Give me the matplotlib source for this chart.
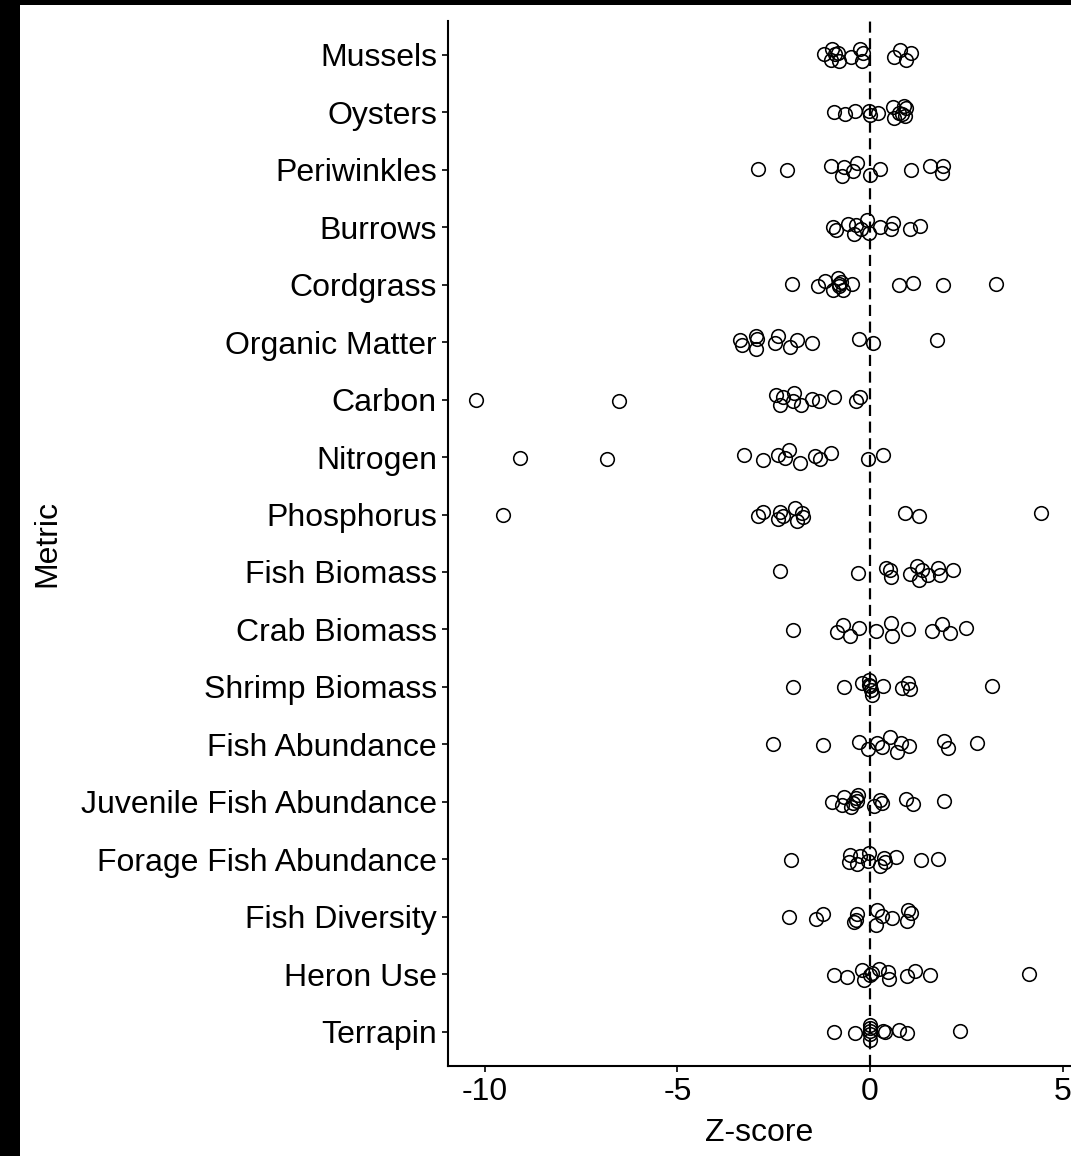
import numpy as np
import matplotlib
matplotlib.use('Agg')
import matplotlib.pyplot as plt
from matplotlib.patches import Rectangle

plt.rcParams['font.family'] = ['Liberation Sans', 'DejaVu Sans']
plt.rcParams['axes.unicode_minus'] = False

# metrics, top to bottom
metrics = ['Mussels', 'Oysters', 'Periwinkles', 'Burrows', 'Cordgrass',
           'Organic Matter', 'Carbon', 'Nitrogen', 'Phosphorus',
           'Fish Biomass', 'Crab Biomass', 'Shrimp Biomass', 'Fish Abundance',
           'Juvenile Fish Abundance', 'Forage Fish Abundance',
           'Fish Diversity', 'Heron Use', 'Terrapin']

# z-scores per metric, with the vertical jitter each point got
mussels_z = [-1.19, -0.99, -1.02, -0.91, -0.82, -0.80, -0.50, -0.26, -0.22, -0.19, 0.62, 0.78, 0.93, 1.06]
mussels_j = [0.01, 0.10, -0.08, 0.02, 0.04, -0.10, -0.03, 0.11, -0.10, 0.03, -0.03, 0.08, -0.08, 0.03]
oysters_z = [-0.93, -0.64, -0.39, -0.03, -0.01, 0.20, 0.61, 0.62, 0.76, 0.87, 0.92, 0.93, 0.82]
oysters_j = [0.01, -0.02, 0.03, 0.02, -0.05, -0.01, 0.09, -0.09, -0.01, 0.12, -0.07, 0.07, -0.03]
periwinkles_z = [-2.92, -2.16, -1.01, -0.74, -0.67, -0.43, -0.34, 0.0, 0.26, 1.06, 1.57, 1.86, 1.89]
periwinkles_j = [0.01, -0.01, 0.06, -0.10, 0.05, -0.02, 0.12, -0.09, 0.02, -0.01, 0.07, -0.05, 0.06]
burrows_z = [-0.97, -0.88, -0.58, -0.41, -0.36, -0.24, -0.09, -0.02, 0.26, 0.54, 0.59, 1.04, 1.30]
burrows_j = [0.01, -0.04, 0.06, -0.12, 0.04, -0.03, 0.12, -0.10, 0.0, -0.03, 0.07, -0.03, 0.02]
cordgrass_z = [-2.02, -1.36, -1.17, -0.95, -0.82, -0.80, -0.80, -0.69, -0.76, -0.46, 0.76, 1.12, 1.90, 3.27]
cordgrass_j = [0.01, -0.03, 0.07, -0.09, 0.11, 0.02, -0.03, -0.10, 0.05, 0.02, -0.01, 0.03, -0.01, 0.02]
organic_z = [-3.37, -3.32, -2.96, -2.94, -2.96, -2.47, -2.38, -2.09, -1.89, -1.51, -0.28, 0.09, 1.73]
organic_j = [0.04, -0.05, 0.10, 0.05, -0.11, -0.02, 0.10, -0.08, 0.03, -0.01, 0.05, -0.02, 0.03]
carbon_z = [-10.22, -6.51, -2.44, -2.35, -2.25, -1.97, -2.01, -1.80, -1.51, -1.32, -0.93, -0.37, -0.26]
carbon_j = [-0.01, -0.03, 0.08, -0.09, 0.05, 0.12, -0.03, -0.10, 0.01, -0.02, 0.04, -0.03, 0.04]
nitrogen_z = [-9.08, -6.84, -3.27, -2.77, -2.38, -2.21, -2.10, -1.82, -1.43, -1.30, -1.02, -0.04, 0.35]
nitrogen_j = [-0.01, -0.03, 0.04, -0.05, 0.04, -0.02, 0.12, -0.11, 0.02, -0.03, 0.07, -0.03, 0.03]
phosphorus_z = [-9.54, -2.92, -2.79, -2.38, -2.34, -2.25, -1.95, -1.90, -1.77, -1.75, 0.91, 1.27, 4.43]
phosphorus_j = [-0.01, -0.02, 0.05, -0.08, 0.05, -0.02, 0.11, -0.12, 0.03, -0.05, 0.03, -0.02, 0.02]
fish_biomass_z = [-2.34, -0.32, 0.41, 0.52, 0.54, 1.04, 1.21, 1.28, 1.34, 1.51, 1.77, 1.82, 2.16]
fish_biomass_j = [0.01, -0.01, 0.07, 0.04, -0.08, -0.03, 0.11, -0.14, 0.04, -0.05, 0.07, -0.05, 0.03]
crab_biomass_z = [-1.99, -0.87, -0.71, -0.52, -0.28, 0.15, 0.54, 0.56, 0.98, 1.61, 1.86, 2.09, 2.49]
crab_biomass_j = [-0.01, -0.05, 0.08, -0.11, 0.03, -0.02, 0.11, -0.11, 0.01, -0.03, 0.09, -0.06, 0.03]
shrimp_biomass_z = [-2.01, -0.67, -0.22, -0.02, 0.0, 0.02, 0.04, -0.02, 0.35, 0.82, 0.99, 1.04, 3.17]
shrimp_biomass_j = [0.0, -0.01, 0.06, 0.12, 0.01, -0.06, -0.14, 0.04, 0.01, -0.02, 0.07, -0.04, 0.01]
fish_abund_z = [-2.53, -1.21, -0.28, -0.06, 0.19, 0.30, 0.52, 0.69, 0.80, 1.01, 1.93, 2.03, 2.79]
fish_abund_j = [0.0, -0.02, 0.04, -0.09, 0.03, -0.05, 0.12, -0.14, 0.02, -0.03, 0.06, -0.06, 0.02]
juvenile_z = [-0.98, -0.74, -0.67, -0.49, -0.43, -0.36, -0.30, -0.33, 0.10, 0.26, 0.30, 0.93, 1.12, 1.92]
juvenile_j = [0.0, -0.05, 0.08, -0.10, -0.02, 0.07, 0.11, 0.01, -0.07, 0.03, -0.03, 0.05, -0.04, 0.02]
forage_z = [-2.05, -0.52, -0.54, -0.33, -0.26, -0.02, -0.04, 0.26, 0.37, 0.39, 0.67, 1.32, 1.77]
forage_j = [-0.01, 0.08, -0.05, -0.09, 0.05, 0.10, -0.03, -0.12, 0.02, -0.05, 0.04, -0.02, 0.01]
diversity_z = [-2.10, -1.40, -1.21, -0.41, -0.35, -0.36, 0.17, 0.16, 0.32, 0.58, 0.98, 1.06, 0.97]
diversity_j = [0.0, -0.04, 0.04, -0.10, 0.04, -0.05, 0.12, -0.14, 0.01, -0.03, 0.11, 0.06, -0.08]
heron_z = [-0.93, -0.59, -0.22, -0.16, 0.0, 0.04, 0.23, 0.48, 0.49, 0.97, 1.17, 1.57, 4.13]
heron_j = [-0.01, -0.05, 0.07, -0.10, -0.01, 0.02, 0.09, 0.03, -0.08, -0.03, 0.05, -0.02, 0.01]
terrapin_z = [-0.93, -0.39, 0.0, 0.0, 0.0, 0.0, 0.0, 0.35, 0.39, 0.75, 0.95, 2.35]
terrapin_j = [-0.01, -0.02, 0.12, 0.07, 0.01, -0.05, -0.14, 0.01, -0.01, 0.03, -0.02, 0.01]

z_scores = [mussels_z, oysters_z, periwinkles_z, burrows_z, cordgrass_z,
            organic_z, carbon_z, nitrogen_z, phosphorus_z, fish_biomass_z,
            crab_biomass_z, shrimp_biomass_z, fish_abund_z, juvenile_z,
            forage_z, diversity_z, heron_z, terrapin_z]
jitters = [mussels_j, oysters_j, periwinkles_j, burrows_j, cordgrass_j,
           organic_j, carbon_j, nitrogen_j, phosphorus_j, fish_biomass_j,
           crab_biomass_j, shrimp_biomass_j, fish_abund_j, juvenile_j,
           forage_j, diversity_j, heron_j, terrapin_j]

W, H = 1071, 1156
fig = plt.figure(figsize=(W / 100, H / 100), dpi=100, facecolor='black')
fig.add_artist(Rectangle((20 / W, 0), 1, 1 - 5 / H, transform=fig.transFigure,
                         facecolor='white', edgecolor='none', zorder=-10))

ax = fig.add_axes([448 / W, 90 / H, 1 - 448 / W, (1135.5 - 90) / H])
ax.set_facecolor('white')

n = len(metrics)
ax.axvline(0, color='black', lw=1.6, ls=(0, (5, 2.5)), zorder=2)
for i, (z, j) in enumerate(zip(z_scores, jitters)):
    ypos = (n - 1 - i) + np.array(j)
    ax.plot(z, ypos, 'o', mfc='none', mec='black', ms=9.8, mew=1.15,
            ls='none', zorder=3)

ax.set_xlim(-10.96, 5.22)
ax.set_ylim(-0.6, n - 0.4)
ax.set_xticks([-10, -5, 0, 5])
ax.set_yticks(range(n))
ax.set_yticklabels(metrics[::-1])

for side in ['top', 'right']:
    ax.spines[side].set_visible(False)
for side in ['left', 'bottom']:
    ax.spines[side].set_linewidth(1.5)
ax.tick_params(labelsize=23, length=4, width=1.2, pad=4, colors='black')

ax.set_xlabel('Z-score', fontsize=23, va='center')
ax.set_ylabel('Metric', fontsize=23, va='center')
ax.xaxis.set_label_coords(0.5, (23 - 90) / (1135.5 - 90))
ax.yaxis.set_label_coords((47 - 448) / (W - 448), 0.5)

fig.savefig('out.png', dpi=100, facecolor=fig.get_facecolor())
